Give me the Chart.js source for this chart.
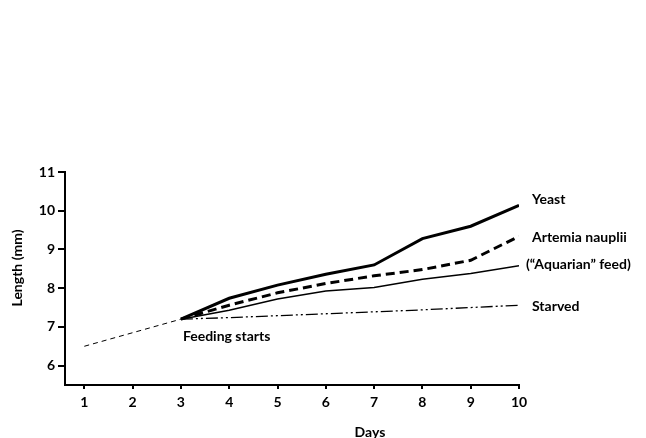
<!DOCTYPE html>
<html>
<head>
<meta charset="utf-8">
<title>Length vs Days</title>
<script src="https://cdn.jsdelivr.net/npm/chart.js@4.4.0/dist/chart.umd.min.js"></script>
<style>
  html, body { margin: 0; padding: 0; background: #fff; }
  canvas { display: block; }
</style>
</head>
<body>
<canvas id="growth" width="646" height="438"></canvas>
<script>
// ---- Data ----
const preDays = [1, 3];
const preLength = [6.5, 7.2];

const days = [3, 4, 5, 6, 7, 8, 9, 10];
const yeast = [7.2, 7.74, 8.08, 8.36, 8.6, 9.28, 9.6, 10.14];
const artemia = [7.2, 7.56, 7.88, 8.12, 8.32, 8.48, 8.72, 9.34];
const aquarian = [7.2, 7.43, 7.72, 7.93, 8.02, 8.23, 8.38, 8.58];
const starved = [7.2, 7.24, 7.29, 7.34, 7.39, 7.44, 7.5, 7.56];

const xTicks = [1, 2, 3, 4, 5, 6, 7, 8, 9, 10];
const yTicks = [6, 7, 8, 9, 10, 11];

const FONT = "Lato, 'DejaVu Sans', sans-serif";

function pts(xs, ys) {
  return xs.map((x, i) => ({ x: x, y: ys[i] }));
}

function series(label, ys, width, dash, dx, dy) {
  return {
    label: label,
    data: pts(days, ys),
    borderColor: '#000',
    borderWidth: width,
    borderDash: dash,
    pointRadius: 0,
    tension: 0,
    fill: false,
    endLabel: { dx: dx, dy: dy }
  };
}

// ---- Text: axis titles, end labels, note ----
const textPlugin = {
  id: 'texts',
  afterDraw(chart) {
    const ctx = chart.ctx;
    const xs = chart.scales.x;
    const ys = chart.scales.y;
    ctx.save();
    ctx.fillStyle = '#000';
    ctx.font = 'bold 14px ' + FONT;
    ctx.textBaseline = 'middle';
    ctx.textAlign = 'left';

    chart.data.datasets.forEach((ds, i) => {
      if (!ds.endLabel) return;
      const meta = chart.getDatasetMeta(i);
      const last = meta.data[meta.data.length - 1];
      ctx.fillText(ds.label, last.x + ds.endLabel.dx, last.y + ds.endLabel.dy);
    });

    // feeding note
    ctx.fillText('Feeding starts', xs.getPixelForValue(3) + 2, ys.getPixelForValue(7.2) + 17);

    // x title
    ctx.textAlign = 'center';
    ctx.fillText('Days', 370, 432);

    // y title
    ctx.translate(17, 268);
    ctx.rotate(-Math.PI / 2);
    ctx.fillText('Length (mm)', 0, 0);
    ctx.restore();
  }
};

new Chart(document.getElementById('growth'), {
  type: 'line',
  data: {
    datasets: [
      {
        label: 'before feeding',
        data: pts(preDays, preLength),
        borderColor: '#000',
        borderWidth: 1,
        borderDash: [5, 4],
        pointRadius: 0,
        fill: false
      },
      series('Yeast', yeast, 3, [], 13, -6),
      series('Artemia nauplii', artemia, 3, [9, 5], 13, 1),
      series('(\u201cAquarian\u201d feed)', aquarian, 1.5, [], 7, -1),
      series('Starved', starved, 1.3, [12, 3, 2, 3, 2, 3], 13, 1)
    ]
  },
  options: {
    responsive: false,
    animation: false,
    layout: { padding: { top: 172, right: 127, bottom: 0, left: 0 } },
    plugins: {
      legend: { display: false },
      tooltip: { enabled: false }
    },
    scales: {
      x: {
        type: 'linear',
        min: 0.6,
        max: 10,
        afterBuildTicks(scale) {
          scale.ticks = xTicks.map(v => ({ value: v }));
        },
        afterFit(scale) { scale.height = 53; },
        border: { display: true, color: '#000', width: 2 },
        grid: {
          drawOnChartArea: false,
          drawTicks: true,
          tickLength: 4,
          color: '#000',
          lineWidth: 2
        },
        ticks: {
          color: '#000',
          font: { family: FONT, size: 14, weight: 'bold' },
          padding: 5,
          maxRotation: 0,
          autoSkip: false
        }
      },
      y: {
        type: 'linear',
        min: 5.5,
        max: 11,
        afterBuildTicks(scale) {
          scale.ticks = yTicks.map(v => ({ value: v }));
        },
        afterFit(scale) { scale.width = 65; },
        border: { display: true, color: '#000', width: 2 },
        grid: {
          drawOnChartArea: false,
          drawTicks: true,
          tickLength: 7,
          color: '#000',
          lineWidth: 2
        },
        ticks: {
          color: '#000',
          font: { family: FONT, size: 14, weight: 'bold' },
          padding: 3,
          autoSkip: false
        }
      }
    }
  },
  plugins: [textPlugin]
});
</script>
</body>
</html>
